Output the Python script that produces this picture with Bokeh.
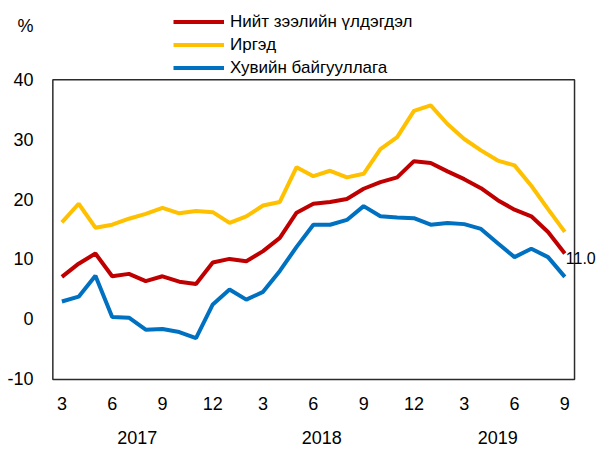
from bokeh.plotting import figure
from bokeh.models import (FixedTicker, LinearAxis, Legend, LegendItem, Label, Range1d, BoxAnnotation)
from bokeh.embed import file_html
from bokeh.resources import INLINE

# --- data -------------------------------------------------------------
months = [3, 4, 5, 6, 7, 8, 9, 10, 11, 12,
          1, 2, 3, 4, 5, 6, 7, 8, 9, 10, 11, 12,
          1, 2, 3, 4, 5, 6, 7, 8, 9]
years = ["2017", "2018", "2019"]
total = [7.1, 9.3, 11.0, 7.2, 7.6, 6.4, 7.2, 6.3, 5.9, 9.5,
         10.1, 9.7, 11.4, 13.6, 17.8, 19.3, 19.6, 20.1, 21.8, 22.9, 23.7, 26.4,
         26.1, 24.7, 23.4, 21.9, 19.9, 18.3, 17.2, 14.6, 11.0]
households = [16.2, 19.3, 15.3, 15.8, 16.8, 17.6, 18.6, 17.7, 18.1, 17.9,
              16.1, 17.2, 19.0, 19.6, 25.4, 23.9, 24.8, 23.7, 24.3, 28.4, 30.4, 34.8,
              35.7, 32.6, 30.1, 28.2, 26.5, 25.7, 22.3, 18.4, 14.6]
companies = [3.0, 3.8, 7.3, 0.4, 0.3, -1.7, -1.6, -2.1, -3.1, 2.5,
             5.0, 3.3, 4.6, 8.1, 12.1, 15.8, 15.8, 16.6, 18.9, 17.2, 17.0, 16.9,
             15.8, 16.1, 15.9, 15.1, 12.7, 10.4, 11.8, 10.4, 7.1]
series_names = ["Нийт зээлийн үлдэгдэл", "Иргэд", "Хувийн байгууллага"]
y_ticks = [-10, 0, 10, 20, 30, 40]
x_tick_idx = [0, 3, 6, 9, 12, 15, 18, 21, 24, 27, 30]
year_centers = [4.5, 15.5, 26.0]
unit_label = "%"

# --- layout / style constants -----------------------------------------
FONT = "Liberation Sans"
colors = ["#C00000", "#FFC000", "#0070C0"]
BOX_X = (-0.54, 30.58)          # plot box edges in index units
UNIT_Y = 48.9                   # vertical spot of the unit label
x = list(range(len(months)))

p = figure(width=597, height=452, output_backend="svg", toolbar_location=None,
           x_range=Range1d(-0.62, 31.95), y_range=Range1d(-10.35, 53.2),
           min_border=0, min_border_left=51, min_border_right=0, min_border_top=0,
           min_border_bottom=71)
p.background_fill_color = "white"
p.border_fill_color = "white"
p.outline_line_color = None
p.xgrid.visible = False
p.ygrid.visible = False


def style_axis(ax, standoff):
    ax.axis_line_color = None
    ax.major_tick_line_color = None
    ax.minor_tick_line_color = None
    ax.major_tick_out = 0
    ax.major_tick_in = 0
    ax.minor_tick_out = 0
    ax.minor_tick_in = 0
    ax.major_label_text_font = FONT
    ax.major_label_text_font_size = "18px"
    ax.major_label_text_color = "black"
    ax.major_label_standoff = standoff


# y axis (values plus the unit label at the top)
p.yaxis.ticker = FixedTicker(ticks=y_ticks + [UNIT_Y])
labels_y = {t: str(t) for t in y_ticks}
labels_y[UNIT_Y] = unit_label
p.yaxis.major_label_overrides = labels_y
style_axis(p.yaxis[0], 18)

# x axis (months)
p.xaxis.ticker = FixedTicker(ticks=x_tick_idx)
p.xaxis.major_label_overrides = {i: str(months[i]) for i in x_tick_idx}
style_axis(p.xaxis[0], 15)

# second x axis (years)
yax = LinearAxis(ticker=FixedTicker(ticks=year_centers),
                 major_label_overrides={c: y for c, y in zip(year_centers, years)})
style_axis(yax, 18)
p.add_layout(yax, "below")

# plot box as an annotation
box = BoxAnnotation(left=BOX_X[0], right=BOX_X[1], bottom=y_ticks[0], top=y_ticks[-1],
                    fill_alpha=0, fill_color=None, line_color="#2b2b2b", line_alpha=1.0,
                    line_width=1.5, level="underlay")
p.add_layout(box)

renderers = []
for vals, col in zip([total, households, companies], colors):
    r = p.line(x, vals, line_color=col, line_width=4)
    renderers.append(r)

legend = Legend(items=[LegendItem(label=n, renderers=[r]) for n, r in zip(series_names, renderers)],
                location=(122, 302))
legend.background_fill_alpha = 0
legend.border_line_color = None
legend.padding = 0
legend.margin = 0
legend.spacing = 0
legend.glyph_width = 51
legend.glyph_height = 23
legend.label_height = 23
legend.label_standoff = 6
legend.label_text_font = FONT
legend.label_text_font_size = "17px"
legend.label_text_color = "black"
p.add_layout(legend, "center")

p.add_layout(Label(x=x[-1], y=total[-1], text=f"{total[-1]:.1f}", x_offset=1, y_offset=-4,
                   text_baseline="middle", text_align="left", text_font=FONT,
                   text_font_size="16px", text_color="black"))

open("out.html", "w").write(file_html(p, INLINE))
